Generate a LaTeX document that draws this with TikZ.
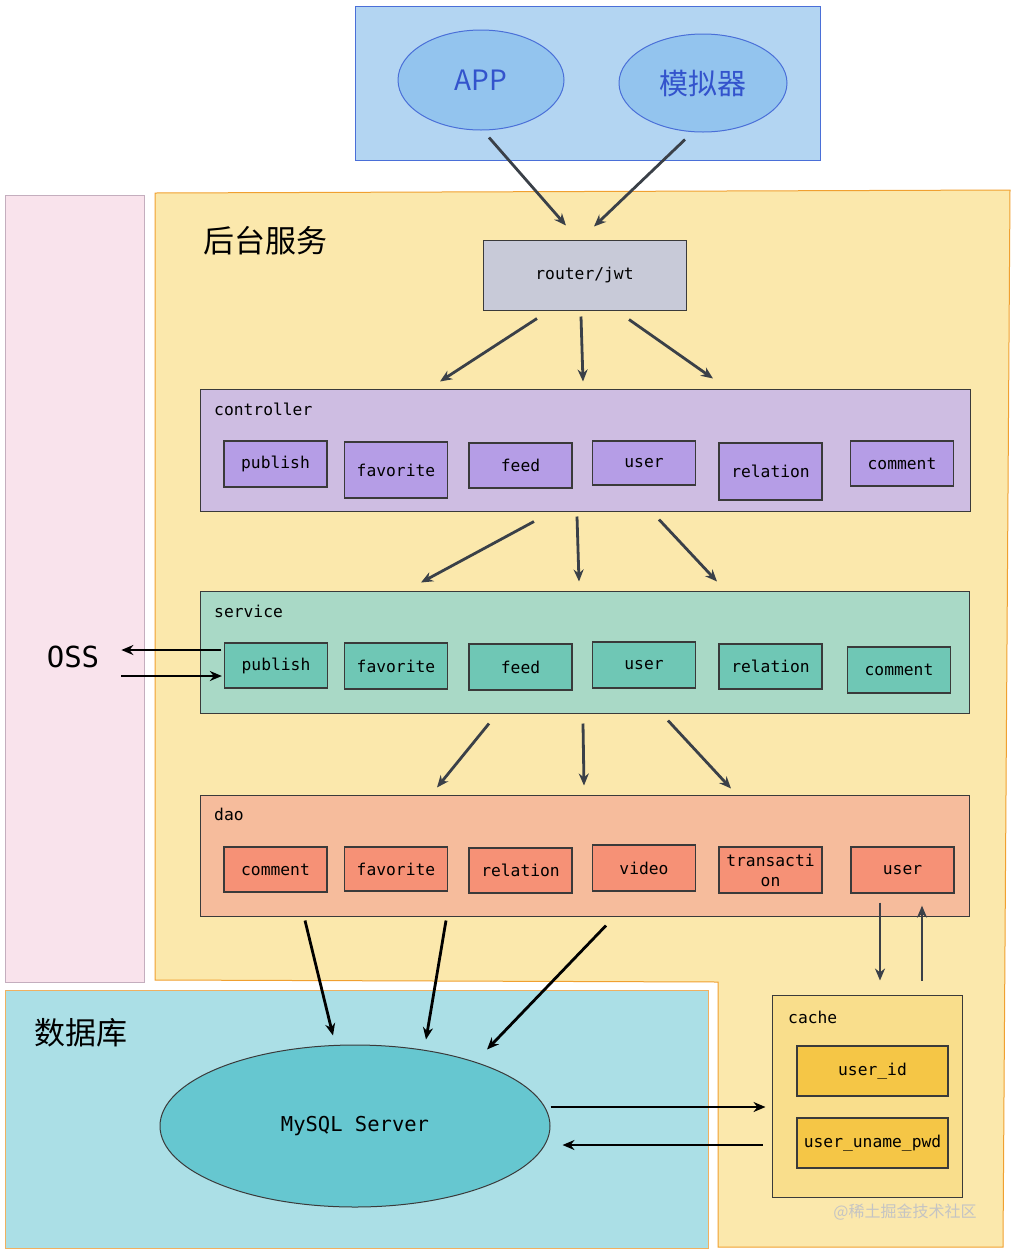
\documentclass[tikz,border=0pt]{standalone}
\usepackage{fontspec}
\newfontfamily\cjk{Noto Sans CJK SC}
\setmonofont{DejaVu Sans Mono}
\usetikzlibrary{arrows.meta,shapes.geometric,calc}
\definecolor{topfill}{HTML}{B3D5F2}
\definecolor{topdraw}{HTML}{4A6FD8}
\definecolor{elfill}{HTML}{93C4EE}
\definecolor{bluetext}{HTML}{3353CC}
\definecolor{backfill}{HTML}{FBE8AC}
\definecolor{backdraw}{HTML}{F0A030}
\definecolor{ossfill}{HTML}{F9E3EC}
\definecolor{ossdraw}{HTML}{C4AEBE}
\definecolor{routerfill}{HTML}{C8CAD8}
\definecolor{ctrlfill}{HTML}{CEBDE2}
\definecolor{ctrlsub}{HTML}{B59DE6}
\definecolor{svcfill}{HTML}{A9D9C6}
\definecolor{svcsub}{HTML}{6FC7B5}
\definecolor{daofill}{HTML}{F6BC9C}
\definecolor{daosub}{HTML}{F69176}
\definecolor{dbfill}{HTML}{ABDFE6}
\definecolor{dbdraw}{HTML}{F0B060}
\definecolor{myfill}{HTML}{66C7D0}
\definecolor{cachefill}{HTML}{F9DE8C}
\definecolor{cachesub}{HTML}{F5C646}
\definecolor{arrowgray}{HTML}{3A4048}
\definecolor{boxdraw}{HTML}{3A3A3A}
\definecolor{wm}{HTML}{C4C4C4}
\begin{document}
\begin{tikzpicture}[x=1pt,y=-1pt,
  box/.style={draw=boxdraw, line width=1pt, inner sep=0pt, rectangle},
  subbox/.style={box, line width=1.3pt, minimum width=103pt},
  mono/.style={font=\ttfamily\fontsize{16.3}{18}\selectfont},
  lbl/.style={mono, anchor=west, inner sep=0pt},
  arr/.style={-{Stealth[length=12pt,width=10pt]}, line width=2.8pt, draw=arrowgray},
  barr/.style={-{Stealth[length=12pt,width=10pt]}, line width=2.8pt, draw=black},
  el/.style={ellipse, draw=topdraw, line width=1pt, fill=elfill, inner sep=0pt}
]
\useasboundingbox (0,0) rectangle (1017,1254);

% background containers
\draw[draw=backdraw, line width=1pt, fill=backfill]
  (155,193) -- (1010,190) -- (1003,1247) -- (718,1247) -- (718,982) -- (155,980) -- cycle;
\node[box, draw=ossdraw, fill=ossfill, minimum width=139pt, minimum height=787pt] (oss) at (74.5,588.5) {};
\node[box, draw=dbdraw, fill=dbfill, minimum width=703pt, minimum height=258pt] (db) at (356.5,1119) {};
\node[box, draw=topdraw, fill=topfill, minimum width=465pt, minimum height=154pt] (top) at (587.5,83) {};

% top ellipses
\node[el, minimum width=166pt, minimum height=100pt, text=bluetext, font=\cjk\fontsize{28}{30}\selectfont] (app) at (481,80) {APP};
\node[el, minimum width=168pt, minimum height=98pt, text=bluetext, font=\cjk\fontsize{29}{31}\selectfont] (sim) at (703,83) {模拟器};

% titles
\node[font=\cjk\fontsize{31}{33}\selectfont, inner sep=0pt] (backtitle) at (265,241) {后台服务};
\node[font=\cjk\fontsize{31}{33}\selectfont, inner sep=0pt] (dbtitle) at (81,1033) {数据库};
\node[font=\ttfamily\fontsize{29}{31}\selectfont, inner sep=0pt] (osslabel) at (73,657) {OSS};

% router
\node[box, fill=routerfill, minimum width=203pt, minimum height=70pt, mono] (router) at (584.5,275) {router/jwt};

% controller layer
\node[box, fill=ctrlfill, minimum width=770pt, minimum height=122pt] (ctrl) at (585,450) {};
\node[lbl] (ctrllbl) at (214,409) {controller};
\node[subbox, fill=ctrlsub, minimum height=46pt, mono] (cpub) at (275.5,464) {publish};
\node[subbox, fill=ctrlsub, minimum height=56pt, mono] (cfav) at (396,470) {favorite};
\node[subbox, fill=ctrlsub, minimum height=45pt, mono] (cfeed) at (520.5,465.5) {feed};
\node[subbox, fill=ctrlsub, minimum height=44pt, mono] (cuser) at (644,463) {user};
\node[subbox, fill=ctrlsub, minimum height=57pt, mono] (crel) at (770.5,471.5) {relation};
\node[subbox, fill=ctrlsub, minimum height=45pt, mono] (ccom) at (902,463.5) {comment};

% service layer
\node[box, fill=svcfill, minimum width=769pt, minimum height=122pt] (svc) at (584.5,652) {};
\node[lbl] (svclbl) at (214,611) {service};
\node[subbox, fill=svcsub, minimum height=45pt, mono] (spub) at (276,665.5) {publish};
\node[subbox, fill=svcsub, minimum height=46pt, mono] (sfav) at (396,666) {favorite};
\node[subbox, fill=svcsub, minimum height=46pt, mono] (sfeed) at (520.5,667) {feed};
\node[subbox, fill=svcsub, minimum height=46pt, mono] (suser) at (644,665) {user};
\node[subbox, fill=svcsub, minimum height=45pt, mono] (srel) at (770.5,666.5) {relation};
\node[subbox, fill=svcsub, minimum height=46pt, mono] (scom) at (899,670) {comment};

% dao layer
\node[box, fill=daofill, minimum width=769pt, minimum height=121pt] (dao) at (584.5,855.5) {};
\node[lbl] (daolbl) at (214,814) {dao};
\node[subbox, fill=daosub, minimum height=45pt, mono] (dcom) at (275.5,869.5) {comment};
\node[subbox, fill=daosub, minimum height=44pt, mono] (dfav) at (396,869) {favorite};
\node[subbox, fill=daosub, minimum height=45pt, mono] (drel) at (520.5,870.5) {relation};
\node[subbox, fill=daosub, minimum height=46pt, mono] (dvid) at (644,868) {video};
\node[subbox, fill=daosub, minimum height=46pt, align=center, font=\ttfamily\fontsize{16.3}{20}\selectfont] (dtra) at (770.5,870) {transacti\\on};
\node[subbox, fill=daosub, minimum height=46pt, mono] (duser) at (902.5,870) {user};

% cache
\node[box, fill=cachefill, minimum width=190pt, minimum height=202pt] (cache) at (867,1096) {};
\node[lbl] (cachelbl) at (788,1017) {cache};
\node[box, line width=1.3pt, fill=cachesub, minimum width=151pt, minimum height=50pt, mono] (uid) at (872.5,1071) {user\_id};
\node[box, line width=1.3pt, fill=cachesub, minimum width=151pt, minimum height=50pt, mono] (upwd) at (872.5,1143) {user\_uname\_pwd};

% MySQL
\node[ellipse, draw=boxdraw, line width=1pt, fill=myfill, inner sep=0pt, minimum width=390pt, minimum height=162pt, font=\ttfamily\fontsize{20.5}{22}\selectfont] (mysql) at (355,1126) {MySQL Server};

% watermark
\node[font=\cjk\fontsize{16}{18}\selectfont, text=wm, inner sep=0pt] (wmark) at (905,1212) {@稀土掘金技术社区};

% arrows
\draw[arr] ($(app.south)+(8,7)$) -- ($(router.north)+(-18.5,-14)$);
\draw[arr] ($(sim.south)+(-18,7)$) -- ($(router.north)+(9.5,-13)$);

\draw[arr] ($(router.south)+(-47.5,8)$) -- ($(ctrl.north)+(-145,-7)$);
\draw[arr] ($(router.south)+(-3.5,6)$) -- ($(ctrl.north)+(-2,-7)$);
\draw[arr] ($(router.south)+(44.5,9)$) -- ($(ctrl.north)+(128,-10)$);

\draw[arr] ($(ctrl.south)+(-51,10)$) -- ($(svc.north)+(-163.5,-8)$);
\draw[arr] ($(ctrl.south)+(-8,5)$) -- ($(svc.north)+(-5.5,-9)$);
\draw[arr] ($(ctrl.south)+(74,8)$) -- ($(svc.north)+(132.5,-9)$);

\draw[arr] ($(svc.south)+(-95.5,10)$) -- ($(dao.north)+(-147.5,-7)$);
\draw[arr] ($(svc.south)+(-1.5,10)$) -- ($(dao.north)+(-0.5,-9)$);
\draw[arr] ($(svc.south)+(83.5,7)$) -- ($(dao.north)+(146.5,-6)$);

\draw[barr] ($(dao.south)+(-279.5,4)$) -- ($(mysql.north)+(-22,-9)$);
\draw[barr] ($(dao.south)+(-138.5,4)$) -- ($(mysql.north)+(71,-5)$);
\draw[barr] ($(dao.south)+(21.5,9)$) -- ($(mysql.north)+(132,5)$);

\draw[arr] ($(duser.south)+(-22.5,9)$) -- ($(cache.north)+(13,-14)$);
\draw[arr] ($(cache.north)+(55,-14)$) -- ($(duser.south)+(19.5,12)$);

\draw[barr] ($(mysql.east)+(0,-19)$) -- ($(cache.west)+(-6,11)$);
\draw[barr] ($(cache.west)+(-9,49)$) -- ($(mysql.east)+(12,19)$);

\draw[barr] ($(spub.west)+(-2.5,-15.5)$) -- ($(osslabel.east)+(22,-7)$);
\draw[barr] ($(osslabel.east)+(22,19)$) -- ($(spub.west)+(-2,10.5)$);
\end{tikzpicture}
\end{document}
